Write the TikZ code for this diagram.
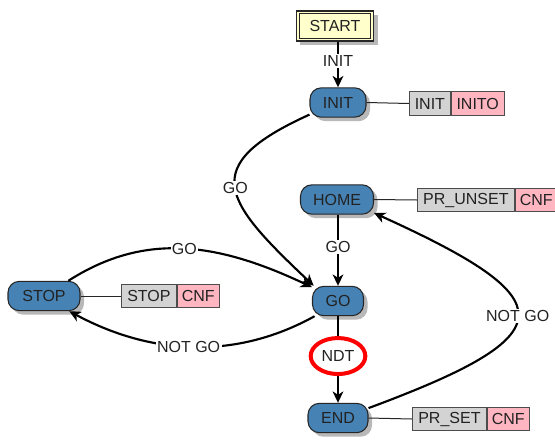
\documentclass[tikz,border=0pt]{standalone}
\usepackage{fontspec}
\setmainfont{Liberation Sans}
\usetikzlibrary{arrows.meta,shadows,shapes.geometric}
\definecolor{stblue}{RGB}{70,130,180}
\definecolor{startyel}{RGB}{255,255,204}
\definecolor{tgray}{RGB}{211,211,211}
\definecolor{tpink}{RGB}{255,182,193}
\definecolor{txt}{RGB}{34,34,34}
\tikzset{
  fnt/.style={font=\fontsize{12pt}{14pt}\selectfont, text=txt},
  shad/.style={drop shadow={shadow xshift=3pt,shadow yshift=-3pt,fill=black!28,opacity=1}},
  state/.style={fnt, rectangle, rounded corners=8.5pt, fill=stblue, draw=black!85, line width=0.8pt,
    minimum height=22pt, inner sep=0pt, shad},
  startbox/.style={fnt, rectangle, fill=startyel, draw=black!85, line width=0.9pt,
    minimum width=58pt, minimum height=22.5pt, inner sep=0pt, shad},
  innerframe/.style={draw=black!85, line width=0.9pt},
  tagg/.style={fnt, rectangle, fill=tgray, draw=black!70, line width=0.6pt, minimum height=17.5pt, inner sep=0pt, anchor=west},
  tagp/.style={tagg, fill=tpink},
  edge/.style={line width=1.6pt, -{Stealth[length=8.5pt,width=8pt,inset=2.5pt]}},
  conn/.style={line width=0.75pt, black!85},
  lbl/.style={fnt, fill=white, inner sep=1pt},
  ndtnode/.style={fnt, ellipse, draw=red, line width=3pt, fill=white, minimum width=41pt, minimum height=27pt, inner sep=0pt}
}
\begin{document}
\begin{tikzpicture}[x=0.75pt,y=-0.75pt]
\useasboundingbox[fill=white] (0,0) rectangle (555,439);
% state nodes
\node[startbox] (start) at (335,26) {START};
\draw[innerframe] ([shift={(2.6pt,-2.6pt)}]start.north west) rectangle ([shift={(-2.6pt,2.6pt)}]start.south east);
\node[state, minimum width=42pt] (init) at (338,102.5) {INIT};
\node[state, minimum width=54.75pt] (home) at (337,199.5) {HOME};
\node[state, minimum width=38.25pt] (go) at (338,301) {GO};
\node[state, minimum width=54pt] (stop) at (44,296) {STOP};
\node[state, minimum width=45pt] (endn) at (338,418) {END};
% tag boxes
\node[tagg, minimum width=30.75pt] (tinit) at (409,103.5) {INIT};
\node[tagp, minimum width=39.75pt] (tinito) at (tinit.east) {INITO};
\node[tagg, minimum width=72.75pt] (thome) at (417,200) {PR\_UNSET};
\node[tagp, minimum width=31.5pt] (thomec) at (thome.east) {CNF};
\node[tagg, minimum width=41.25pt] (tstop) at (121,296) {STOP};
\node[tagp, minimum width=31.5pt] (tstopc) at (tstop.east) {CNF};
\node[tagg, minimum width=55.5pt] (tend) at (412,419) {PR\_SET};
\node[tagp, minimum width=31.5pt] (tendc) at (tend.east) {CNF};
% connectors to tags
\draw[conn] (init.east) -- (tinit.west);
\draw[conn] (home.east) -- (thome.west);
\draw[conn] (stop.east) -- (tstop.west);
\draw[conn] (endn.east) -- (tend.west);
% edges
\draw[edge] (start.south -| init.north) -- node[lbl, pos=0.42] {INIT} (init.north);
\draw[edge] (init.203) .. controls (196,166) and (224,201) .. node[lbl] {GO} (go.148);
\draw[edge] (home.south -| go.north) -- node[lbl, pos=0.45] {GO} (go.north);
\draw[edge] (stop.32) .. controls (146,231) and (219,243.3) .. node[lbl] {GO} (go.152);
\draw[edge] (go.213) .. controls (230,363) and (145,352) .. node[lbl] {NOT GO} (stop.329);
\draw[edge] (go.south) -- node[ndtnode, pos=0.46] (ndt) {NDT} (endn.north);
\draw[edge] (endn.18) .. controls (567,334.5) and (566,300) .. node[lbl] {NOT GO} (home.-20);
\end{tikzpicture}
\end{document}
